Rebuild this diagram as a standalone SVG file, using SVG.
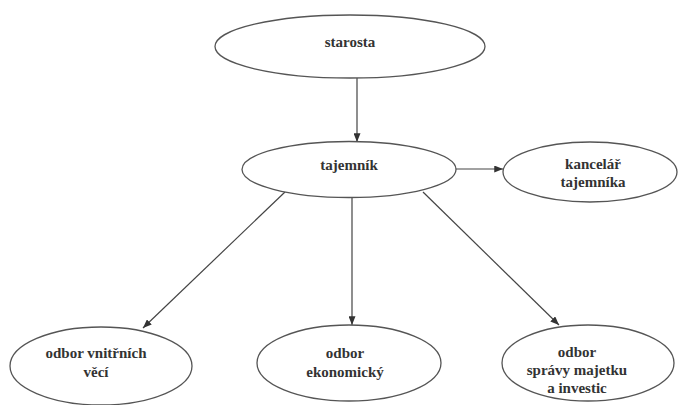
<svg xmlns="http://www.w3.org/2000/svg" width="678" height="405" viewBox="0 0 678 405">
<style>
.n{fill:#fff;stroke:#555;stroke-width:1.3}
.t{font-family:'Liberation Serif','Times New Roman',serif;font-weight:700;font-size:15px;fill:#333;text-anchor:middle}
.c{stroke:#444;stroke-width:1.2;fill:none;marker-end:url(#a)}
</style>
<defs>
<marker id="a" viewBox="0 0 10 8" refX="10" refY="4" markerWidth="9" markerHeight="7" markerUnits="userSpaceOnUse" orient="auto">
<path d="M0,0 L10,4 L0,8 Z" fill="#333"/>
</marker>
</defs>
<rect width="678" height="405" fill="#fff"/>
<g id="connectors">
<line class="c" x1="357" y1="78" x2="357" y2="142"/>
<line class="c" x1="456" y1="169" x2="503" y2="169"/>
<line class="c" x1="285" y1="192" x2="143" y2="328"/>
<line class="c" x1="352" y1="198" x2="352" y2="325"/>
<line class="c" x1="423" y1="192" x2="559" y2="325"/>
</g>
<g id="starosta">
<ellipse class="n" cx="350" cy="46.5" rx="135" ry="31.5"/>
<text class="t" x="350" y="47">starosta</text>
</g>
<g id="tajemnik">
<ellipse class="n" cx="349" cy="169.5" rx="107" ry="28"/>
<text class="t" x="349" y="170">tajemník</text>
</g>
<g id="kancelar">
<ellipse class="n" cx="590" cy="172" rx="87" ry="30"/>
<text class="t" x="593" y="169">kancelář</text>
<text class="t" x="593" y="187">tajemníka</text>
</g>
<g id="vnitrni">
<ellipse class="n" cx="101" cy="366" rx="91" ry="39"/>
<text class="t" x="96" y="358">odbor vnitřních</text>
<text class="t" x="96" y="377">věcí</text>
</g>
<g id="ekonomicky">
<ellipse class="n" cx="349" cy="363" rx="92" ry="38"/>
<text class="t" x="345" y="358">odbor</text>
<text class="t" x="345" y="377">ekonomický</text>
</g>
<g id="majetek">
<ellipse class="n" cx="588" cy="363" rx="86" ry="38"/>
<text class="t" x="577" y="357">odbor</text>
<text class="t" x="577" y="375">správy majetku</text>
<text class="t" x="577" y="393">a investic</text>
</g>
</svg>
